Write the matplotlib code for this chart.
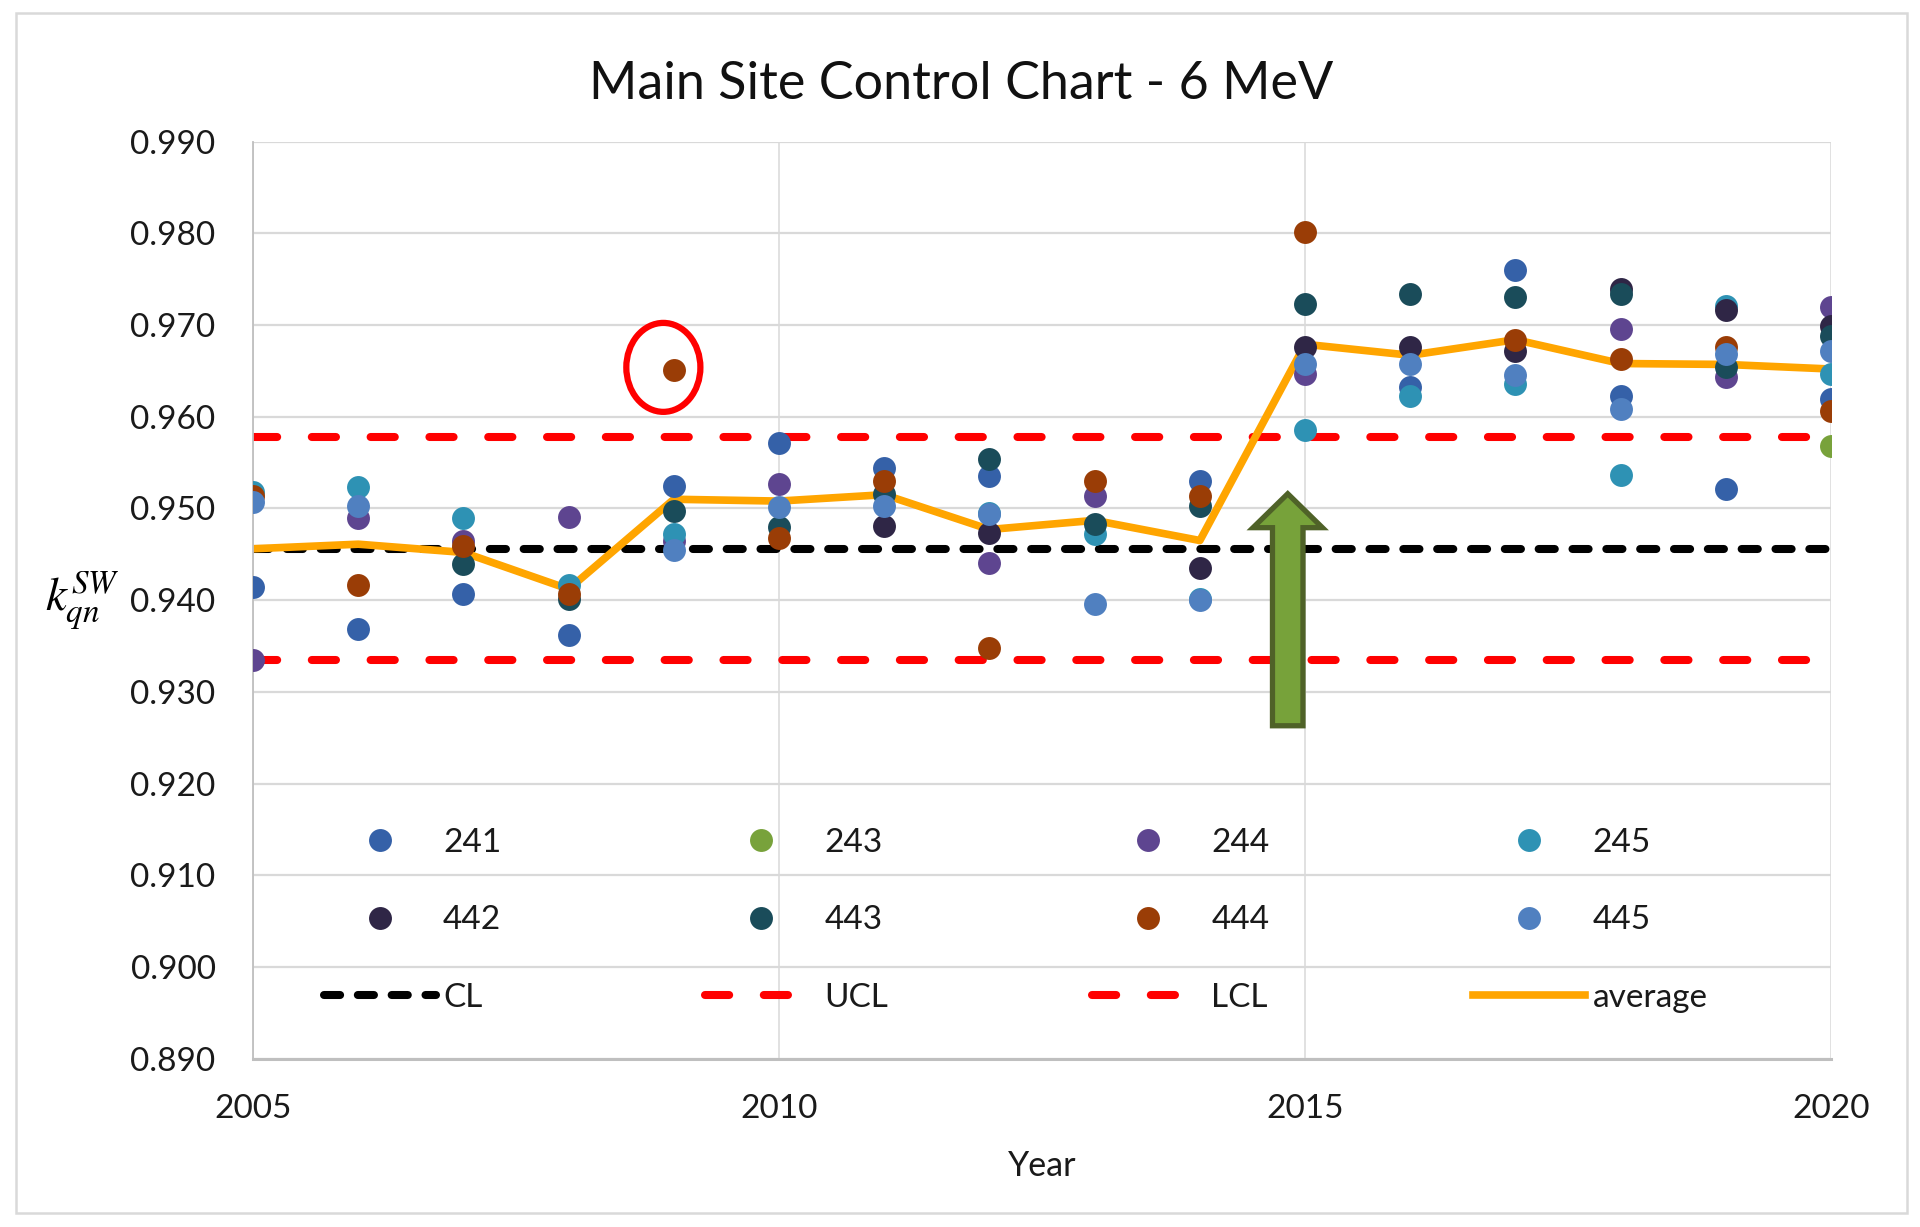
import numpy as np
import matplotlib
matplotlib.use("Agg")
import matplotlib.pyplot as plt
from matplotlib.patches import Ellipse, FancyArrow, Rectangle

plt.rcParams['font.family'] = ['Lato', 'DejaVu Sans']
plt.rcParams['mathtext.fontset'] = 'stix'

nan = np.nan
years = np.arange(2005, 2021)

# measured k_qn values per chamber (NaN = no point visible)
k241 = [0.9414, 0.9368, 0.9407, 0.9362, 0.9524, 0.9571, 0.9544, 0.9535, nan, 0.9530,
        nan, 0.9632, 0.9760, 0.9623, 0.9521, 0.9619]
k243 = [nan, nan, nan, nan, nan, nan, nan, nan, nan, nan,
        nan, nan, nan, nan, nan, 0.9568]
k244 = [0.9335, 0.9490, 0.9465, 0.9491, 0.9465, 0.9527, nan, 0.9441, 0.9513, nan,
        0.9647, nan, nan, 0.9696, 0.9643, 0.9720]
k245 = [0.9518, 0.9523, 0.9490, 0.9417, 0.9472, nan, nan, 0.9495, 0.9472, 0.9401,
        0.9585, 0.9623, 0.9636, 0.9536, 0.9721, 0.9647]
k442 = [nan, nan, nan, nan, nan, nan, 0.9481, 0.9473, nan, 0.9435,
        0.9676, 0.9676, 0.9672, 0.9739, 0.9716, 0.9699]
k443 = [nan, nan, 0.9439, 0.9401, 0.9497, 0.9480, 0.9516, 0.9554, 0.9483, 0.9503,
        0.9723, 0.9734, 0.9730, 0.9734, 0.9654, 0.9688]
k444 = [0.9514, 0.9416, 0.9459, 0.9407, 0.9651, 0.9468, 0.9530, 0.9348, 0.9530, 0.9514,
        0.9801, nan, 0.9684, 0.9663, 0.9676, 0.9606]
k445 = [0.9507, 0.9503, nan, nan, 0.9455, 0.9502, 0.9503, 0.9494, 0.9396, 0.9400,
        0.9657, 0.9657, 0.9645, 0.9608, 0.9668, 0.9672]
average = [0.9456, 0.9461, 0.9452, 0.9412, 0.9510, 0.9508, 0.9515, 0.9477, 0.9487, 0.9465,
           0.9679, 0.9667, 0.9684, 0.9658, 0.9657, 0.9652]
CL, UCL, LCL = 0.9456, 0.9578, 0.9335

series = [("241", k241, "#3561A8"), ("243", k243, "#78A23B"), ("244", k244, "#5E4590"),
          ("245", k245, "#2E92B4"), ("442", k442, "#2F2646"), ("443", k443, "#1A4C5A"),
          ("444", k444, "#9A3D06"), ("445", k445, "#5080C0")]

fig = plt.figure(figsize=(19.2, 12.27), dpi=100)
ax = fig.add_axes([0.1318, 0.1372, 0.8219, 0.7474])

# outer chart border
fig.patches.append(Rectangle((0.0083, 0.0114), 0.9849, 0.978, transform=fig.transFigure,
                             fill=False, ec="#D9D9D9", lw=1.8))

handles = {}
handles["CL"], = ax.plot(years, [CL] * len(years), color="black", lw=5.8,
                         dashes=(2.0, 2.2), dash_capstyle="round", zorder=2)
handles["UCL"], = ax.plot(years, [UCL] * len(years), color="#FF0000", lw=5.8,
                          dashes=(3.0, 4.3), dash_capstyle="round", zorder=2)
handles["LCL"], = ax.plot(years, [LCL] * len(years), color="#FF0000", lw=5.8,
                          dashes=(3.0, 4.3), dash_capstyle="round", zorder=2)
handles["average"], = ax.plot(years, average, color="#FFA500", lw=5.5, zorder=2.5)

for name, vals, col in series:
    handles[name], = ax.plot(years, vals, ls="none", marker="o", ms=16.5,
                             mfc=col, mec=col, mew=0, zorder=3)

# red circle round the 2009 outlier and green arrow at 2015
ax.add_patch(Ellipse((2008.9, 0.96538), 0.704, 0.0097, fill=False, ec="#FF0000",
                     lw=4.5, zorder=5))
ax.add_patch(FancyArrow(2014.835, 0.9263, 0, 0.0253, width=0.29, head_width=0.66,
                        head_length=0.0037, length_includes_head=True,
                        fc="#77A23A", ec="#4F6228", lw=3.8, joinstyle="miter", zorder=6))

ax.set_xlim(2005, 2020)
ax.set_ylim(0.89, 0.99)
ax.set_xticks([2005, 2010, 2015, 2020])
ax.set_yticks(np.arange(0.89, 0.9901, 0.01))
ax.yaxis.set_major_formatter(matplotlib.ticker.FormatStrFormatter("%.3f"))
ax.tick_params(length=0, labelsize=24, colors="#1A1A1A")
ax.tick_params(axis="x", pad=25.5)
ax.tick_params(axis="y", pad=27)
ax.grid(axis="y", color="#D9D9D9", lw=1.6, zorder=0)
ax.grid(axis="x", color="#D9D9D9", lw=1.1, zorder=0)
ax.set_axisbelow(True)
for s in ["top", "right"]:
    ax.spines[s].set_visible(False)
ax.spines["left"].set_color("#BFBFBF")
ax.spines["left"].set_linewidth(1.3)
ax.spines["bottom"].set_color("#BFBFBF")
ax.spines["bottom"].set_linewidth(2.2)

ax.set_xlabel("Year", fontsize=24.5, color="#1A1A1A", va="center")
ax.xaxis.set_label_coords(0.5, -0.117)
ax.set_ylabel(r"$k_{qn}^{SW}$", fontsize=34, rotation=0, ha="center", va="center")
ax.yaxis.set_label_coords(-0.108, 0.5)

fig.text(0.5008, 0.9313, "Main Site Control Chart - 6 MeV", fontsize=37.5, ha="center",
         va="center", color="#111111")

order = ["241", "442", "CL", "243", "443", "UCL", "244", "444", "LCL", "245", "445", "average"]
ax.legend([handles[k] for k in order], order, ncol=4, loc="center left",
          bbox_to_anchor=(0.045, 0.151), frameon=False, fontsize=24,
          handlelength=3.36, handletextpad=0.21, columnspacing=6.12,
          labelspacing=1.43, borderpad=0, borderaxespad=0, numpoints=1,
          labelcolor="#1A1A1A")

fig.savefig("out.png", dpi=100)
